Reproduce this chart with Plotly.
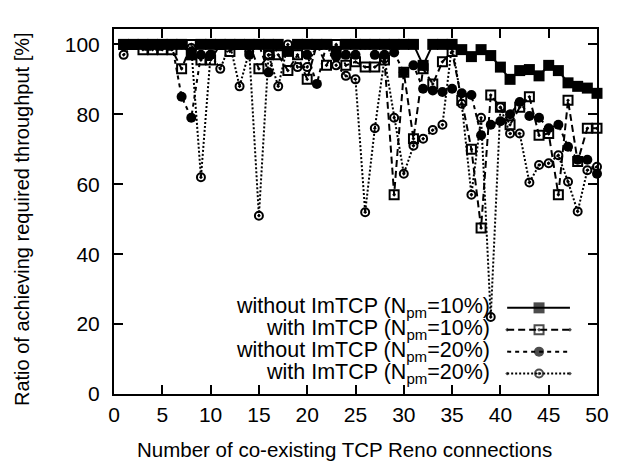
import plotly.graph_objects as go

n_conn = list(range(1, 51))

without_10 = [100, 100, 100, 100, 100, 100, 100, 97, 100, 100,
              100, 100, 100, 100, 100, 100, 100, 98, 100, 100,
              100, 100, 98, 100, 100, 100, 100, 100, 100, 100,
              100, 94, 100, 100, 100, 98.5, 96.5, 98.5, 96.8, 93.5,
              90, 92.5, 92.8, 91, 94, 92.5, 89, 88, 87.5, 86]

with_10 = [100, 100, 98.5, 98.5, 98.5, 98.5, 93, 100, 95.5, 95.5,
           100, 98, 100, 100, 93, 97, 97, 92.5, 97, 90,
           100, 94, 100, 94, 95, 93.5, 93.5, 95.5, 57, 92,
           73, 93, 88.7, 95, 98, 84, 70, 47.5, 85.5, 82,
           77, 82, 85, 74, 74.5, 57, 84, 66.5, 76, 76]

without_20 = [100, 100, 100, 100, 100, 100, 85, 79, 97, 97,
              100, 100, 100, 97, 100, 92, 100, 98, 100, 97,
              88.7, 100, 96.5, 97, 97, 100, 97, 97, 97.7, 92,
              94, 87.3, 86.8, 86.4, 87.3, 86, 85.5, 74, 77, 78,
              80, 83.5, 79.5, 79, 76, 77, 70.7, 67, 67, 63]

with_20 = [97, 100, 100, 100, 100, 100, 100, 99, 62, 97,
           93, 100, 88, 98, 51, 97, 88, 100, 93.5, 93.5,
           100, 100, 94, 91, 90, 52, 76, 96, 79, 63,
           71, 73, 75.5, 77, 100, 83, 57, 79, 22, 82,
           74.5, 74.5, 60.5, 65.5, 66, 68.3, 60.7, 52.2, 64, 65]

x_ticks = list(range(0, 51, 5))
y_ticks = list(range(0, 101, 20))

series_names = ["without ImTCP (N<sub>pm</sub>=10%)",
                "with ImTCP (N<sub>pm</sub>=10%)",
                "without ImTCP (N<sub>pm</sub>=20%)",
                "with ImTCP (N<sub>pm</sub>=20%)"]
series_vals = [without_10, with_10, without_20, with_20]
styles = [
    dict(dash="solid", symbol="square", size=11, lw=0),
    dict(dash="7px,4px", symbol="square-open-dot", size=9, lw=2),
    dict(dash="4px,4px", symbol="circle", size=10, lw=0),
    dict(dash="2px,2px", symbol="circle-open-dot", size=8, lw=2),
]

FONT = "Liberation Sans, Arial, Helvetica, sans-serif"
fig = go.Figure()

for name, vals, st in zip(series_names, series_vals, styles):
    fig.add_trace(go.Scatter(
        x=n_conn, y=vals, mode="lines+markers", showlegend=False,
        line=dict(color="black", width=2, dash=st["dash"]),
        marker=dict(symbol=st["symbol"], size=st["size"], color="black",
                    line=dict(color="black", width=st["lw"])),
        cliponaxis=False,
    ))

# manual legend (text on the left, key on the right)
leg_rows_y = [0.236, 0.176, 0.116, 0.056]
key_x = [0.814, 0.880, 0.944]
annotations = []
for name, st, yy in zip(series_names, styles, leg_rows_y):
    fig.add_trace(go.Scatter(
        x=key_x, y=[yy] * 3, xaxis="x2", yaxis="y2", mode="lines+markers",
        showlegend=False, hoverinfo="skip",
        line=dict(color="black", width=2, dash=st["dash"]),
        marker=dict(symbol=st["symbol"], size=[0, st["size"], 0], color="black",
                    line=dict(color="black", width=st["lw"])),
    ))
    annotations.append(dict(
        text=name, x=0.783, y=yy, xref="paper", yref="paper",
        xanchor="right", yanchor="middle", showarrow=False,
        font=dict(family=FONT, size=21.5, color="black"),
    ))

annotations.append(dict(
    text="Number of co-existing TCP Reno connections", x=0.478, y=-0.151,
    xref="paper", yref="paper", xanchor="center", yanchor="middle",
    showarrow=False, font=dict(family=FONT, size=20.5, color="black")))
annotations.append(dict(
    text="Ratio of achieving required throughput [%]", x=-0.19, y=0.48,
    xref="paper", yref="paper", xanchor="center", yanchor="middle",
    textangle=-90, showarrow=False, font=dict(family=FONT, size=20, color="black")))

axis_common = dict(showgrid=False, zeroline=False, showline=True, linecolor="black",
                   linewidth=2, mirror="allticks", ticks="inside", ticklen=9,
                   tickwidth=1.5, tickcolor="black",
                   tickfont=dict(family=FONT, size=21, color="black"))

fig.update_layout(
    width=626, height=463,
    margin=dict(l=114, r=29, t=29, b=69),
    paper_bgcolor="white", plot_bgcolor="white",
    xaxis=dict(range=[0, 50], tickvals=x_ticks, ticklabelstandoff=1, **axis_common),
    yaxis=dict(range=[0, 104.4], tickvals=y_ticks, ticklabelstandoff=8, **axis_common),
    xaxis2=dict(range=[0, 1], overlaying="x", visible=False, fixedrange=True),
    yaxis2=dict(range=[0, 1], overlaying="y", visible=False, fixedrange=True),
    annotations=annotations,
    font=dict(family=FONT, color="black"),
)

fig.write_html("out.html", config={"displayModeBar": False},
               post_script="document.body.style.margin='0';")
